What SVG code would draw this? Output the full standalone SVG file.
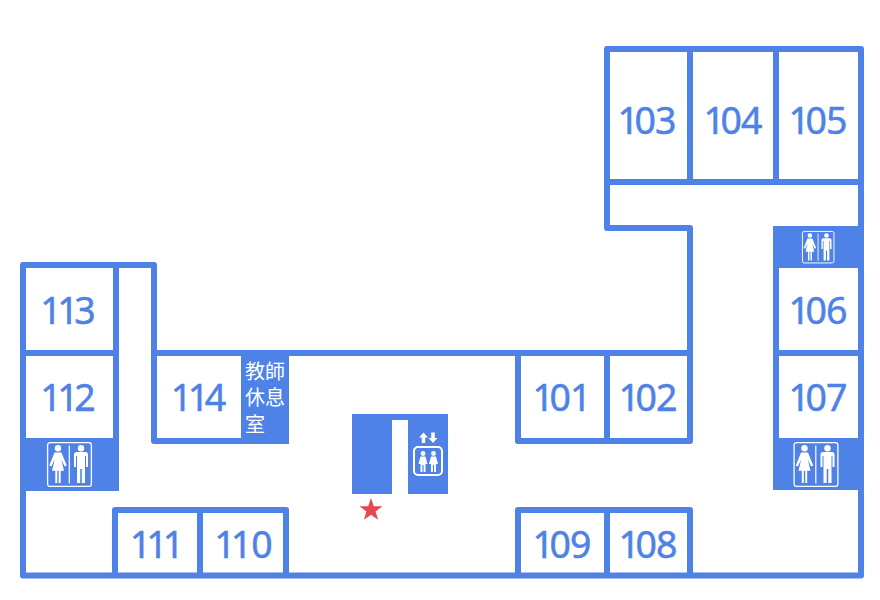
<svg xmlns="http://www.w3.org/2000/svg" width="880" height="600" viewBox="0 0 880 600">
<style>
.w{fill:none;stroke:#4e82e6;stroke-width:6;stroke-linejoin:round}
.b{fill:#4e82e6}
.n{font-family:"Noto Sans","Open Sans",sans-serif;font-size:37.5px;fill:#4e82e6;stroke:#4e82e6;stroke-width:.5;text-anchor:middle}
.c{font-family:"Noto Sans CJK TC","Noto Sans CJK JP",sans-serif;font-size:20px;fill:#fff}
.i{fill:#fff}
.o{fill:none;stroke:#fff}
</style>
<defs>
<g id="wc">
<rect class="o" x="0.6" y="0.6" width="43.8" height="43.8" rx="2.5" stroke-width="1.3"/>
<rect class="i" x="21.7" y="3.5" width="1.2" height="38"/>
<circle class="i" cx="11" cy="6.300" r="3.200"/>
<path class="i" d="M7.500 10.500H14.500L19.700 23.500L17.700 24.500L14.300 17.500L17 28.700H13.700V41H11.700V28.700H10.300V41H8.300V28.700H5L7.700 17.500L4.300 24.500L2.300 23.500Z"/>
<circle class="i" cx="34" cy="6.300" r="3.200"/>
<path class="i" d="M29.500 10H38.500Q41 10 41 12.500V25H39V14H38V41H34.800V27H33.200V41H30V14H29V25H27V12.500Q27 10 29.500 10Z"/>
</g>
<g id="lift">
<rect class="o" x="1" y="1" width="28" height="28" rx="4" stroke-width="2"/>
<circle class="i" cx="10" cy="7.500" r="2.400"/><circle class="i" cx="20.500" cy="7.500" r="2.400"/>
<path class="i" d="M7.500 10.500H12.500L14.500 18H12.500V26H10.600V19H9.400V26H7.500V18H5.500Z"/>
<path class="i" d="M18 10.500H23L25 18H23V26H21.100V19H19.900V26H18V18H16Z"/>
</g>
</defs>
<g id="walls" class="w">
<path d="M154 353V265H23V575.500H861V49H607V228H690V441H518V353M607 182H861M690 49V182M776 49V182M607 353V441M776 268V440M776 353H861M154 353H690M154 353V441H289M23 353H116M116 265V491"/>
<path d="M115 575.500V510H286V575.500M200 510V575.500M518 575.500V510H690V575.500M607 510V575.500"/>
</g>
<g id="toilet-left"><rect class="b" x="20" y="438" width="99" height="53"/><use href="#wc" x="47" y="442"/></g>
<g id="toilet-top"><rect class="b" x="773" y="226" width="88" height="42"/><use href="#wc" transform="translate(802 231) scale(.72)"/></g>
<g id="toilet-bottom"><rect class="b" x="773" y="438" width="88" height="52"/><use href="#wc" x="793.500" y="442"/></g>
<g id="lounge"><rect class="b" x="241" y="350" width="48" height="94"/>
<text class="c" x="245" y="378.500">教師</text><text class="c" x="245" y="405">休息</text><text class="c" x="245" y="431.500">室</text></g>
<g id="core"><path class="b" d="M352 414H448V494H408V420H392V494H352Z"/>
<use href="#lift" x="413" y="446"/>
<path class="i" d="M423.500 432.500L428 437.500H425.200V443H421.800V437.500H419ZM433 443L437.500 438H434.800V432.500H431.200V438H428.500Z"/></g>
<g id="star"><path fill="#e8474e" d="M371 498L373.800 506.200H382.500L375.600 511.400L378.100 519.700L371 514.800L363.900 519.700L366.400 511.400L359.500 506.200H368.200Z"/></g>
<g id="labels">
<text class="n" x="68" y="324" dx="0 -4.500 -4.500">113</text><text class="n" x="68" y="411" dx="0 -4.500 -4.500">112</text><text class="n" x="198.500" y="411" dx="0 -4.500 -4.500">114</text>
<text class="n" x="157" y="558" dx="0 -5 -5">111</text><text class="n" x="243.500" y="558" dx="0 -5 -1">110</text><text class="n" x="562" y="411" dx="0 -4.500 -1">101</text><text class="n" x="648" y="411" dx="0 -4.500 -1">102</text>
<text class="n" x="562" y="558" dx="0 -4.500 -1">109</text><text class="n" x="648" y="558" dx="0 -4.500 -1">108</text><text class="n" x="647" y="134" dx="0 -4.500 -1">103</text><text class="n" x="733" y="134" dx="0 -4.500 -1">104</text><text class="n" x="818" y="134" dx="0 -4.500 -1">105</text>
<text class="n" x="818" y="324" dx="0 -4.500 -1">106</text><text class="n" x="818" y="411" dx="0 -4.500 -1">107</text>
</g>
</svg>
